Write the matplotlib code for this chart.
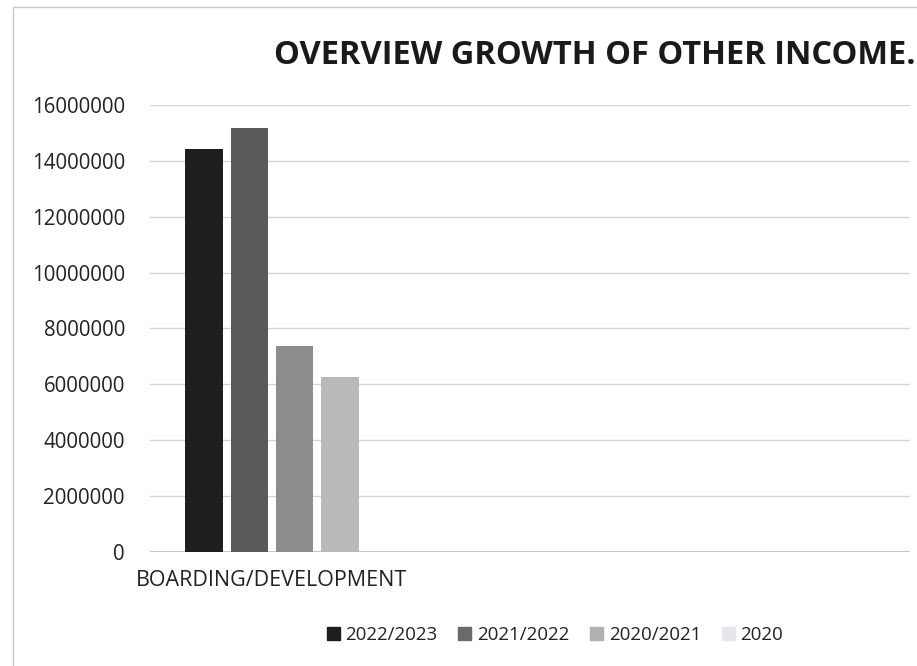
import matplotlib
matplotlib.use("Agg")
import matplotlib.pyplot as plt
from matplotlib.patches import Rectangle
import numpy as np

plt.rcParams["font.family"] = ["Open Sans", "DejaVu Sans"]

# data
categories = ["BOARDING/DEVELOPMENT"]
series_names = ["2022/2023", "2021/2022", "2020/2021", "2020"]
values = [14420000, 15160000, 7380000, 6270000]
bar_colors = ["#1e1e1e", "#5a5a5a", "#8c8c8c", "#b9b9b9"]
y_ticks = [0, 2000000, 4000000, 6000000, 8000000, 10000000, 12000000, 14000000, 16000000]

fig = plt.figure(figsize=(9.17, 6.66), dpi=100)
fig.patch.set_facecolor("white")

# faint outline of the pasted chart area
fig.add_artist(Rectangle((13 / 917, -0.1), 1.2, 1 - 7 / 666 + 0.1,
                         transform=fig.transFigure, fill=False,
                         edgecolor="#c8c8c8", linewidth=1.0))

ax = fig.add_axes([150 / 917, 1 - 551.7 / 666, 760 / 917, (551.7 - 105) / 666])

pitch = 1.0
width = 0.82
offsets = (np.arange(len(series_names)) - 1.5) * pitch
for name, val, col, off in zip(series_names, values, bar_colors, offsets):
    ax.bar(0 + off, val, width=width, color=col, label=name, zorder=3)

ax.set_ylim(0, 16000000)
ax.set_xlim(-122 / 45.3, 638 / 45.3)
ax.set_yticks(y_ticks)
ax.set_yticklabels([str(t) for t in y_ticks], fontsize=14.8, color="#222222")
ax.set_xticks([0])
ax.set_xticklabels(categories, fontsize=15.5, color="#222222")
ax.tick_params(axis="both", length=0)
ax.tick_params(axis="y", pad=18)
ax.tick_params(axis="x", pad=13)

for s in ["top", "right", "left", "bottom"]:
    ax.spines[s].set_visible(False)
ax.grid(axis="y", color="#d4d4d4", linewidth=1.0, zorder=0)
ax.axhline(0, color="#bdbdbd", linewidth=1.2, zorder=2)

fig.text(595 / 917, 1 - 56 / 666, "OVERVIEW GROWTH OF OTHER INCOME.",
         ha="center", va="center", fontsize=23.5, fontweight="bold", color="#1a1a1a")

handles = [Rectangle((0, 0), 1, 1, color=c) for c in ["#1e1e1e", "#6a6a6a", "#b0b0b0", "#e6e6ec"]]
fig.legend(handles, series_names, loc="center", bbox_to_anchor=(555 / 917, 1 - 635 / 666),
           ncol=4, frameon=False, fontsize=13.5, handlelength=0.7, handleheight=0.7,
           handletextpad=0.3, columnspacing=1.1, labelcolor="#222222")

fig.savefig("out.png", dpi=100, facecolor="white")
